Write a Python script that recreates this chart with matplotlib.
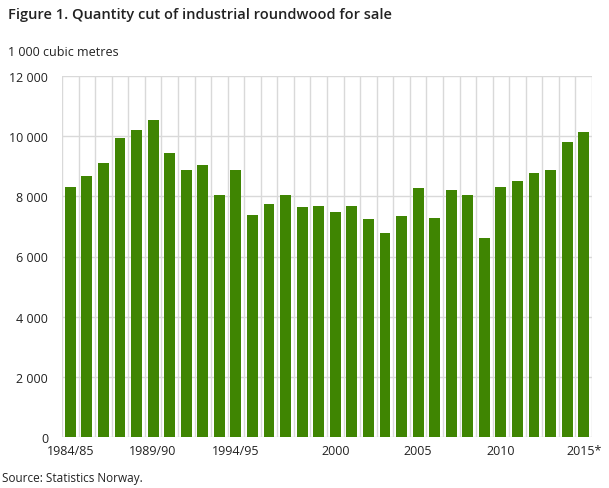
import numpy as np
import matplotlib.pyplot as plt

plt.rcParams['font.family'] = ['Open Sans', 'DejaVu Sans']

years = ['1984/85', '1985/86', '1986/87', '1987/88', '1988/89', '1989/90',
         '1990/91', '1991/92', '1992/93', '1993/94', '1994/95', '1995/96',
         '1996', '1997', '1998', '1999', '2000', '2001', '2002', '2003',
         '2004', '2005', '2006', '2007', '2008', '2009', '2010', '2011',
         '2012', '2013', '2014', '2015*']
quantity = [8316, 8681, 9113, 9944, 10209, 10541, 9445, 8880, 9047, 8050,
            8880, 7385, 7751, 8050, 7651, 7684, 7485, 7684, 7252, 6787,
            7352, 8283, 7285, 8216, 8050, 6621, 8316, 8515, 8781, 8880,
            9811, 10143]
shown = ['1984/85', '1989/90', '1994/95', '2000', '2005', '2010', '2015*']
yticks = [0, 2000, 4000, 6000, 8000, 10000, 12000]

fig = plt.figure(figsize=(6.09, 4.89), dpi=100)
ax = fig.add_axes([62/609, 1 - 438/489, 530/609, 361/489])

x = np.arange(len(years))
ax.bar(x, quantity, width=0.66, color='#3f8502', zorder=3)

ax.set_xlim(-0.5, len(years) - 0.5)
ax.set_ylim(0, 12000)

# grid: vertical lines between categories, horizontal at ticks
for b in np.arange(-0.5, len(years), 1.0):
    ax.axvline(b, color='#d9d9d9', lw=1, zorder=1)
for t in yticks:
    ax.axhline(t, color='#d9d9d9', lw=1, zorder=1)

ax.set_yticks(yticks)
ax.set_yticklabels([f'{v:,}'.replace(',', ' ') for v in yticks])
ax.set_xticks([years.index(s) for s in shown])
ax.set_xticklabels(shown)
ax.tick_params(length=0, labelsize=9, colors='#222222', pad=5)
ax.tick_params(axis='y', pad=10)
for s in ax.spines.values():
    s.set_visible(False)

fig.text(8/609, 1 - 15/489, 'Figure 1. Quantity cut of industrial roundwood for sale',
         fontsize=10.5, fontweight='semibold', color='#222222', va='center')
fig.text(8/609, 1 - 53/489, '1 000 cubic metres', fontsize=9, color='#222222', va='center')
fig.text(2/609, 1 - 479/489, 'Source: Statistics Norway.', fontsize=8.5, color='#222222', va='center')

fig.savefig('out.png', dpi=100)
